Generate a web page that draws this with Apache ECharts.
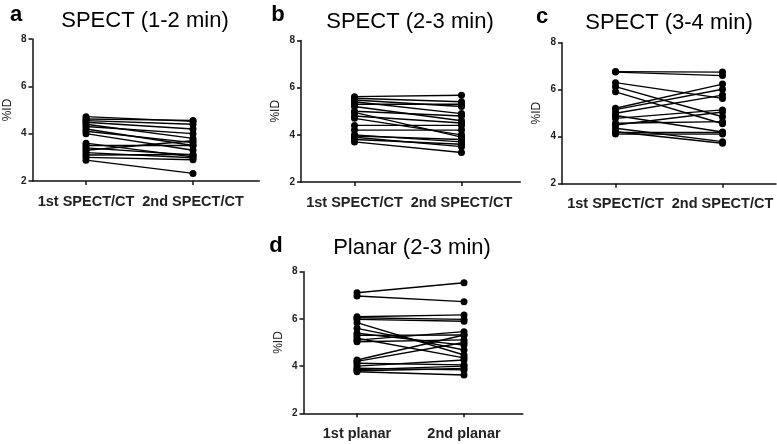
<!DOCTYPE html>
<html><head><meta charset="utf-8">
<script src="https://cdn.jsdelivr.net/npm/echarts@6/dist/echarts.min.js"></script>
<style>html,body{margin:0;padding:0;background:#fff}#c{width:777px;height:444px}</style>
</head><body><div id="c"></div>
<script>
// Panel titles and category labels
const panelLetters = ['a', 'b', 'c', 'd'];
const panelTitles = ['SPECT (1-2 min)', 'SPECT (2-3 min)', 'SPECT (3-4 min)', 'Planar (2-3 min)'];
const spectCats = ['1st SPECT/CT', '2nd SPECT/CT'];
const planarCats = ['1st planar', '2nd planar'];
const yTicks = [2, 4, 6, 8];

// Panel a: SPECT 1-2 min (%ID), paired measurements
const aFirst  = [4.72, 4.62, 4.55, 4.48, 4.40, 4.30, 4.20, 4.10, 4.00, 3.60, 3.50, 3.40, 3.30, 3.20, 3.10, 3.00, 2.88];
const aSecond = [4.52, 4.56, 4.40, 4.20, 3.80, 4.00, 3.50, 3.62, 3.30, 3.02, 3.50, 3.10, 3.70, 2.98, 3.12, 2.90, 2.32];

// Panel b: SPECT 2-3 min
const bFirst  = [5.62, 5.55, 5.48, 5.40, 5.30, 5.20, 5.00, 4.95, 4.80, 4.70, 4.40, 4.20, 4.00, 3.95, 3.90, 3.80, 3.70];
const bSecond = [5.68, 5.40, 5.20, 4.90, 5.30, 4.60, 4.80, 3.90, 4.50, 4.00, 4.40, 4.20, 3.70, 3.80, 3.50, 3.60, 3.25];

// Panel c: SPECT 3-4 min
const cFirst  = [6.77, 6.75, 6.30, 6.13, 5.91, 5.21, 5.15, 5.00, 4.78, 4.90, 4.57, 4.36, 4.21, 4.11, 4.18, 4.50];
const cSecond = [6.75, 6.60, 5.63, 4.85, 4.55, 6.24, 6.02, 5.77, 5.14, 4.20, 4.64, 3.79, 3.72, 4.11, 4.18, 5.05];

// Panel d: Planar 2-3 min
const dFirst  = [7.11, 6.97, 6.09, 6.05, 5.98, 5.84, 5.60, 5.39, 5.30, 5.18, 5.10, 5.03, 4.26, 4.20, 4.12, 3.91, 3.76, 3.85, 3.80, 4.00];
const dSecond = [7.53, 6.73, 6.17, 5.98, 5.90, 4.47, 4.68, 4.89, 5.32, 4.35, 5.46, 5.11, 5.32, 5.00, 4.05, 3.84, 3.62, 4.00, 3.90, 4.26];

const panels = [
  {first: aFirst, second: aSecond, cats: spectCats, left: 32.5, top: 39,  bottom: 181,  xmax: 2.62, titleX: 145, titleY: 21,  letterX: 16,  letterY: 15},
  {first: bFirst, second: bSecond, cats: spectCats, left: 301,  top: 40.5, bottom: 182, xmax: 2.55, titleX: 410, titleY: 22,  letterX: 278, letterY: 15},
  {first: cFirst, second: cSecond, cats: spectCats, left: 562,  top: 42.7, bottom: 183.7, xmax: 2.5, titleX: 669, titleY: 23, letterX: 542, letterY: 17},
  {first: dFirst, second: dSecond, cats: planarCats, left: 303.5, top: 271.7, bottom: 413.3, xmax: 2.55, titleX: 412, titleY: 248, letterX: 276, letterY: 246}
];

const XMIN = 0.5, UNIT = 107;
const textColor = '#222';
const grid = [], xAxis = [], yAxis = [], series = [], graphic = [];

panels.forEach((p, i) => {
  grid.push({left: p.left, top: p.top, width: (p.xmax - XMIN) * UNIT, height: p.bottom - p.top, containLabel: false});
  xAxis.push({
    type: 'value', gridIndex: i, min: XMIN, max: p.xmax,
    axisLine: {show: true, lineStyle: {color: '#111', width: 1.5}},
    axisTick: {show: true, customValues: [1, 2], length: 4, lineStyle: {color: '#111', width: 1.5}},
    axisLabel: {customValues: [1, 2], formatter: v => (v === 1 ? p.cats[0] : p.cats[1]), hideOverlap: false,
      fontFamily: 'Liberation Sans, Arial, sans-serif', fontWeight: 'bold', fontSize: 14.5, color: textColor, margin: 13},
    splitLine: {show: false}
  });
  yAxis.push({
    type: 'value', gridIndex: i, min: 2, max: 8, interval: 2,
    name: '%ID', nameLocation: 'middle', nameGap: 19, nameRotate: 90,
    nameTextStyle: {fontFamily: 'Liberation Sans, Arial, sans-serif', fontSize: 12, color: textColor},
    axisLine: {show: true, lineStyle: {color: '#111', width: 1.5}},
    axisTick: {show: true, length: 4, lineStyle: {color: '#111', width: 1.5}},
    axisLabel: {fontFamily: 'Liberation Sans, Arial, sans-serif', fontWeight: 'bold', fontSize: 10, color: textColor, margin: 6},
    splitLine: {show: false}
  });
  p.first.forEach((v, k) => {
    series.push({
      type: 'line', xAxisIndex: i, yAxisIndex: i,
      data: [[1, v], [2, p.second[k]]],
      symbol: 'circle', symbolSize: 7, showSymbol: true,
      lineStyle: {color: '#000', width: 1.4},
      itemStyle: {color: '#000'},
      silent: true, animation: false
    });
  });
  graphic.push({type: 'text', x: p.letterX, y: p.letterY, style: {text: panelLetters[i], fill: '#000',
    font: 'bold 22px Liberation Sans, Arial, sans-serif', textAlign: 'center', textVerticalAlign: 'middle'}});
  graphic.push({type: 'text', x: p.titleX, y: p.titleY, style: {text: panelTitles[i], fill: '#000',
    font: '22px Liberation Sans, Arial, sans-serif', textAlign: 'center', textVerticalAlign: 'middle'}});
});

const chart = echarts.init(document.getElementById('c'), null, {renderer: 'canvas'});
chart.setOption({animation: false, grid, xAxis, yAxis, series, graphic});
</script>
</body></html>
